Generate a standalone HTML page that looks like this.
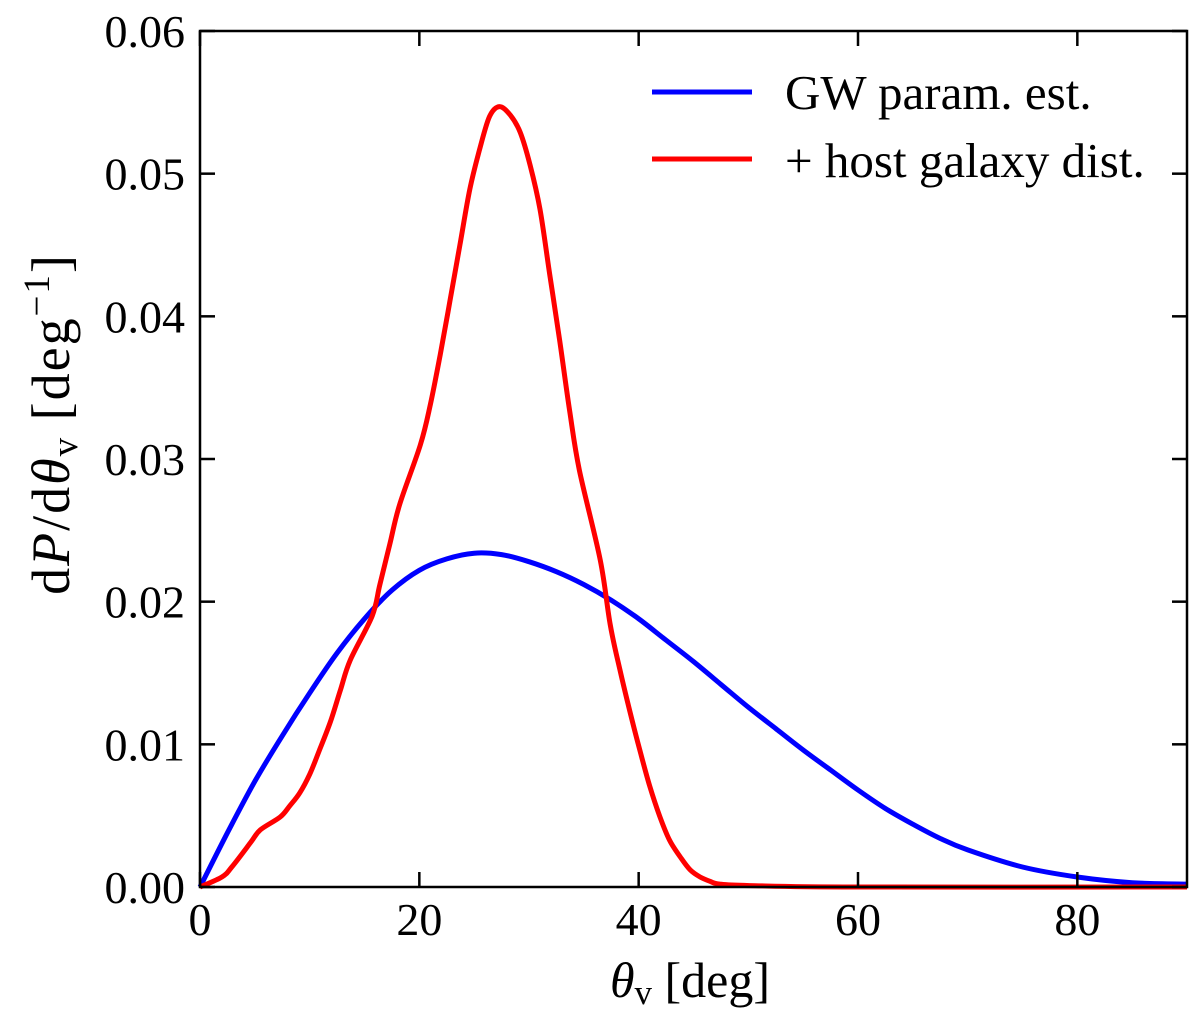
<!DOCTYPE html>
<html><head><meta charset="utf-8"><style>
html,body{margin:0;padding:0;background:#fff;}
svg text{font-family:"Liberation Serif",serif;fill:#000;}
</style></head><body>
<svg id="chart" width="1200" height="1015" viewBox="0 0 1200 1015" xmlns="http://www.w3.org/2000/svg">
<g id="marks"></g>
<g id="axes"></g>
<g>
 <line x1="652" y1="92" x2="752" y2="92" stroke="#0000ff" stroke-width="5"/>
 <text x="785" y="109" font-size="49">GW param. est.</text>
 <line x1="652" y1="159" x2="752" y2="159" stroke="#ff0000" stroke-width="5"/>
 <text x="785" y="177" font-size="49">+ host galaxy dist.</text>
</g>
<text x="690" y="997" font-size="50" text-anchor="middle"><tspan font-style="italic">θ</tspan><tspan font-size="35" dy="7">v</tspan><tspan dy="-7"> [deg]</tspan></text>
<text transform="translate(69,424) rotate(-90)" font-size="54" letter-spacing="2" text-anchor="middle">d<tspan font-style="italic">P</tspan>/d<tspan font-style="italic">θ</tspan><tspan font-size="37" dy="8">v</tspan><tspan dy="-8"> [deg</tspan><tspan font-size="37" dy="-20">−1</tspan><tspan dy="20">]</tspan></text>
</svg>
<script>
const xTicks=[0,20,40,60,80];
const yTicks=[0,0.01,0.02,0.03,0.04,0.05,0.06];
const yTickLabels=["0.00","0.01","0.02","0.03","0.04","0.05","0.06"];
const gwX=[0,2.5,5,7.5,10,12.5,15,17.5,20,22.5,25,27.5,30,32.5,35,37.5,40,42.5,45,47.5,50,52.5,55,57.5,60,62.5,65,67.5,70,75,80,85,90];
const gwY=[0,0.0038,0.0074,0.0106,0.0136,0.0164,0.0188,0.0208,0.0222,0.0230,0.0234,0.0233,0.0228,0.0221,0.0212,0.0201,0.0188,0.0173,0.0158,0.0142,0.0126,0.0111,0.0096,0.0082,0.0068,0.0055,0.0044,0.0034,0.0026,0.0014,0.0007,0.0003,0.0002];
const hostX=[0,2.0,2.9,4.6,5.5,7.3,8.2,9.1,10.0,10.9,11.9,12.8,13.7,15.7,16.4,17.3,18.2,20.1,21.0,21.9,22.8,23.7,24.6,25.5,26.4,27.3,28.3,29.2,30.1,31.0,31.9,32.8,33.7,34.6,36.5,37.4,38.3,39.2,40.1,41.0,41.9,42.8,43.8,44.7,45.6,46.5,47.4,50.1,60,90];
const hostY=[0,0.0007,0.0014,0.0031,0.004,0.0049,0.0057,0.0066,0.0079,0.0096,0.0116,0.0138,0.0159,0.019,0.0212,0.024,0.0268,0.031,0.0338,0.0373,0.0411,0.045,0.0489,0.0517,0.054,0.0547,0.0541,0.0529,0.0506,0.0475,0.0429,0.0383,0.0334,0.0292,0.0229,0.0184,0.0152,0.0123,0.0096,0.0071,0.005,0.0033,0.0021,0.0012,0.0007,0.0004,0.0002,0.0001,0,0];
const L=200,R=1187,T=31,B=887;
const sx=v=>L+(v/90)*(R-L);
const sy=v=>B-(v/0.06)*(B-T);
const NS="http://www.w3.org/2000/svg";
const marks=document.getElementById('marks'),axes=document.getElementById('axes');
function mk(tag,attrs,parent){const e=document.createElementNS(NS,tag);for(const k in attrs)e.setAttribute(k,attrs[k]);parent.appendChild(e);return e;}
function line(xs,ys,color,name){
 const p=xs.map((x,i)=>[sx(x),sy(ys[i])]);
 let d='M'+p[0][0].toFixed(1)+','+p[0][1].toFixed(1);
 for(let i=0;i<p.length-1;i++){
  const p0=p[Math.max(0,i-1)],p1=p[i],p2=p[i+1],p3=p[Math.min(p.length-1,i+2)];
  const c1=[p1[0]+(p2[0]-p0[0])/6,p1[1]+(p2[1]-p0[1])/6];
  const c2=[p2[0]-(p3[0]-p1[0])/6,p2[1]-(p3[1]-p1[1])/6];
  d+=' C'+c1.map(v=>v.toFixed(1)).join(',')+' '+c2.map(v=>v.toFixed(1)).join(',')+' '+p2.map(v=>v.toFixed(1)).join(',');
 }
 const e=mk('path',{d:d,fill:'none',stroke:color,'stroke-width':5,'stroke-linejoin':'round'},marks);
 
 
}
line(gwX,gwY,'#0000ff','gw-param-line');
line(hostX,hostY,'#ff0000','host-galaxy-line');
const fr=mk('rect',{x:L,y:T,width:R-L,height:B-T,fill:'none',stroke:'#000','stroke-width':2.5},axes);


xTicks.forEach(v=>{
 const x=sx(v);
 mk('line',{x1:x,y1:B,x2:x,y2:B-15,stroke:'#000','stroke-width':2.5},axes);
 mk('line',{x1:x,y1:T,x2:x,y2:T+15,stroke:'#000','stroke-width':2.5},axes);
 const t=mk('text',{x:x,y:935,'font-size':46,'text-anchor':'middle'},axes);
 t.textContent=v;
 
 
});
yTicks.forEach((v,i)=>{
 const y=sy(v);
 mk('line',{x1:L,y1:y,x2:L+15,y2:y,stroke:'#000','stroke-width':2.5},axes);
 mk('line',{x1:R,y1:y,x2:R-15,y2:y,stroke:'#000','stroke-width':2.5},axes);
 const t=mk('text',{x:L-15,y:y+16,'font-size':46,'text-anchor':'end'},axes);
 t.textContent=yTickLabels[i];
 
 
});
</script>
</body></html>
